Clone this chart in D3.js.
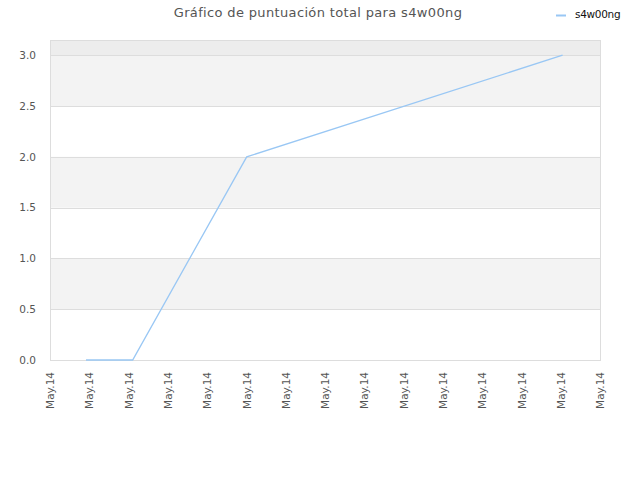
<!DOCTYPE html>
<html>
<head>
<meta charset="utf-8">
<script src="https://cdn.jsdelivr.net/npm/d3@7"></script>
<style>
    body { margin: 0; background: #fff; }
    svg { display: block; font-family: "DejaVu Sans", sans-serif; }
</style>
</head>
<body>
<div id="chart"></div>
<script>
// series values (timestamps and total score)
const seriesName = "s4w00ng";
const times = ["2014-05-01T22:00", "2014-05-03T02:30", "2014-05-06T00:10", "2014-05-14T01:10"];
const scores = [0, 0, 2, 3];
const yTicks = [0, 0.5, 1.0, 1.5, 2.0, 2.5, 3.0];
const title = "Gráfico de puntuación total para s4w00ng";

const parse = d3.timeParse("%Y-%m-%dT%H:%M");
const data = times.map((t, i) => ({ date: parse(t), value: scores[i] }));

const width = 640;
const height = 480;
const marginTop = 40;
const marginRight = 40;
const marginBottom = 120;
const marginLeft = 50;

// Create the x (time) scale, one tick per day
const start = new Date(2014, 4, 1);
const end = new Date(2014, 4, 15);
const x = d3.scaleTime()
    .domain([start, end])
    .range([marginLeft, width - marginRight]);

const y = d3.scaleLinear()
    .domain([0, 3.15])
    .range([height - marginBottom, marginTop]);

const svg = d3.select("#chart")
    .append("svg")
    .attr("width", width)
    .attr("height", height);

// alternating bands
const bands = [[0.5, 1.0], [1.5, 2.0], [2.5, 3.0]];
svg.append("g")
    .selectAll("rect")
    .data(bands)
    .enter()
    .append("rect")
    .attr("x", marginLeft)
    .attr("width", width - marginRight - marginLeft)
    .attr("y", (d) => y(d[1]))
    .attr("height", (d) => y(d[0]) - y(d[1]))
    .attr("fill", "#f3f3f3");

// top band above last tick
svg.append("rect")
    .attr("x", marginLeft)
    .attr("width", width - marginRight - marginLeft)
    .attr("y", marginTop)
    .attr("height", y(3.0) - marginTop)
    .attr("fill", "#ededed");

// horizontal grid lines
svg.append("g")
    .selectAll("line")
    .data(yTicks)
    .enter()
    .append("line")
    .attr("x1", marginLeft)
    .attr("x2", width - marginRight)
    .attr("y1", (d) => Math.round(y(d)) + 0.5)
    .attr("y2", (d) => Math.round(y(d)) + 0.5)
    .attr("stroke", "#dddddd");

// plot border
svg.append("rect")
    .attr("x", marginLeft + 0.5)
    .attr("y", marginTop + 0.5)
    .attr("width", width - marginRight - marginLeft)
    .attr("height", height - marginBottom - marginTop)
    .attr("fill", "none")
    .attr("stroke", "#dddddd");

// y axis
svg.append("g")
    .attr("transform", `translate(${marginLeft - 11},0)`)
    .call(d3.axisLeft(y).tickValues(yTicks).tickFormat(d3.format(".1f")).tickSize(0))
    .call((g) => g.select(".domain").remove())
    .call((g) => g.selectAll("text")
        .attr("fill", "#555")
        .attr("font-size", 10.5)
        .attr("font-family", "DejaVu Sans, sans-serif"));

// x axis, labels rotated
svg.append("g")
    .attr("transform", `translate(0,${height - marginBottom})`)
    .call(d3.axisBottom(x).tickValues(d3.timeDay.range(start, d3.timeDay.offset(end, 1))).tickFormat(d3.timeFormat("%b.%y")).tickSize(0))
    .call((g) => g.select(".domain").remove())
    .call((g) => g.selectAll("text")
        .attr("fill", "#555")
        .attr("font-size", 10.5)
        .attr("font-family", "DejaVu Sans, sans-serif")
        .attr("text-anchor", "end")
        .attr("transform", "rotate(-90)")
        .attr("x", -12)
        .attr("y", 0)
        .attr("dy", "0.35em"));

// line
const line = d3.line()
    .x((d) => x(d.date))
    .y((d) => y(d.value));

svg.append("path")
    .datum(data)
    .attr("fill", "none")
    .attr("stroke", "#99c7f4")
    .attr("stroke-width", 1.3)
    .attr("d", line);

// title
svg.append("text")
    .attr("x", 318)
    .attr("y", 17)
    .attr("text-anchor", "middle")
    .attr("font-size", 13)
    .attr("letter-spacing", 0.35)
    .attr("fill", "#555")
    .text(title);

// legend
svg.append("line")
    .attr("x1", 556)
    .attr("x2", 566)
    .attr("y1", 15.5)
    .attr("y2", 15.5)
    .attr("stroke", "#99c7f4")
    .attr("stroke-width", 2);

svg.append("text")
    .attr("x", 575)
    .attr("y", 18)
    .attr("font-size", 10.5)
    .attr("letter-spacing", -0.3)
    .attr("fill", "#111")
    .text(seriesName);
</script>
</body>
</html>
